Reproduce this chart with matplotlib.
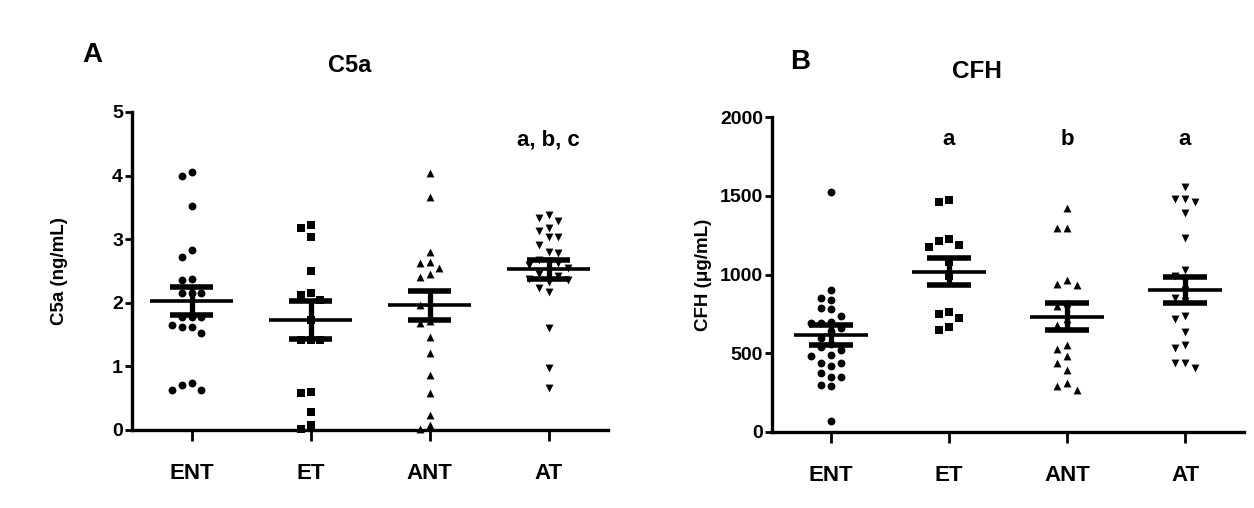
import matplotlib
matplotlib.use("Agg")
import matplotlib.pyplot as plt
import numpy as np

plt.rcParams.update({
    "font.family": ["Liberation Sans", "DejaVu Sans"],
    "font.weight": "bold",
    "axes.labelweight": "bold",
    "axes.linewidth": 2.4,
    "xtick.major.width": 2.0,
    "ytick.major.width": 2.0,
})

# ---- data ----------------------------------------------------------------
groups = ["ENT", "ET", "ANT", "AT"]
markers = ["o", "s", "^", "v"]

c5a_ent = [4.00, 4.05, 3.52, 2.83, 2.72, 2.38, 2.36, 2.15, 2.15, 2.15, 1.78,
           1.78, 1.78, 1.62, 1.62, 1.65, 1.52, 0.71, 0.63, 0.63, 0.74]
c5a_et = [3.17, 3.22, 3.04, 2.50, 2.15, 2.12, 2.05, 1.73, 1.42, 1.42, 1.42,
          0.58, 0.60, 0.29, 0.08, 0.02]
c5a_ant = [4.04, 3.67, 2.80, 2.64, 2.62, 2.55, 2.46, 2.41, 2.02, 1.96, 1.72,
           1.68, 1.47, 1.21, 0.86, 0.58, 0.24, 0.08, 0.02]
c5a_at = [3.38, 3.33, 3.28, 3.18, 3.13, 3.04, 3.03, 2.91, 2.80, 2.78, 2.68,
          2.65, 2.62, 2.59, 2.55, 2.50, 2.46, 2.42, 2.38, 2.36, 2.33, 2.23,
          2.17, 1.61, 0.97, 0.66]
c5a_mean = [2.03, 1.73, 1.96, 2.53]
c5a_sem = [0.22, 0.30, 0.23, 0.15]

cfh_ent = [1526, 902, 849, 838, 785, 779, 737, 700, 695, 690, 660, 640, 600,
           560, 540, 520, 489, 485, 436, 419, 441, 373, 351, 351, 298, 292, 72]
cfh_et = [1473, 1458, 1225, 1213, 1187, 1177, 1080, 990, 760, 747, 722, 665, 648]
cfh_ant = [1420, 1297, 1297, 965, 938, 933, 820, 800, 720, 680, 552, 525, 483,
           436, 394, 309, 294, 267]
cfh_at = [1558, 1480, 1477, 1460, 1389, 1230, 1029, 990, 960, 900, 850, 830,
          737, 716, 637, 552, 531, 436, 436, 404]
cfh_mean = [616, 1018, 732, 902]
cfh_sem = [66, 85, 85, 83]

c5a_letters = ["", "", "", "a, b, c"]
cfh_letters = ["", "a", "b", "a"]


def swarm(ax, x0, vals, step=0.083, min_px=9):
    """Greedy beeswarm: returns x positions so markers don't overlap."""
    placed = []
    xs = np.zeros(len(vals))
    order = np.argsort(vals)[::-1]
    to_px = ax.transData.transform
    for i in order:
        y = vals[i]
        for k in [0, -1, 1, -2, 2, -3, 3, -4, 4]:
            x = x0 + k * step
            p = to_px((x, y))
            if all(np.hypot(*(p - q)) >= min_px for q in placed):
                break
        placed.append(p)
        xs[i] = x
    return xs


def panel(ax, data, means, sems, ymax, yticks, ylabel, letters, letter_y,
          mean_hw, sem_hw):
    ax.set_xlim(-0.5, 3.5)
    ax.set_ylim(0, ymax)
    ax.spines["top"].set_visible(False)
    ax.spines["right"].set_visible(False)
    for i, vals in enumerate(data):
        xs = swarm(ax, i, vals)
        ax.scatter(xs, vals, marker=markers[i], s=32 if markers[i] != "s" else 27,
                   color="black", linewidths=0, zorder=3, clip_on=False)
        m, s = means[i], sems[i]
        ax.hlines(m, i - mean_hw, i + mean_hw, color="black", lw=2.6, zorder=4)
        ax.hlines([m - s, m + s], i - sem_hw, i + sem_hw, color="black",
                  lw=4.0, zorder=4)
        ax.vlines(i, m - s, m + s, color="black", lw=3.8, zorder=4)
        if letters[i]:
            ax.text(i, letter_y, letters[i], ha="center", va="center",
                    fontsize=16, fontweight="bold")
    ax.set_xticks(range(4))
    ax.set_xticklabels(groups, fontsize=16, fontweight="bold")
    ax.set_yticks(yticks)
    ax.tick_params(axis="x", length=8, pad=16, direction="out")
    ax.tick_params(axis="y", length=5, pad=1.5, labelsize=14)
    for t in ax.get_yticklabels():
        t.set_fontweight("bold")
    ax.set_ylabel(ylabel, fontsize=13.5, fontweight="bold")


fig = plt.figure(figsize=(12.54, 5.08), dpi=100)
W, H = 1254, 508
axA = fig.add_axes([132 / W, 1 - 430 / H, (608 - 132) / W, (430 - 112) / H])
axB = fig.add_axes([772 / W, 1 - 432 / H, (1244 - 772) / W, (432 - 117) / H])

panel(axA, [c5a_ent, c5a_et, c5a_ant, c5a_at], c5a_mean, c5a_sem, 5,
      [0, 1, 2, 3, 4, 5], "C5a (ng/mL)", c5a_letters, 4.56, 0.35, 0.18)
panel(axB, [cfh_ent, cfh_et, cfh_ant, cfh_at], cfh_mean, cfh_sem, 2000,
      [0, 500, 1000, 1500, 2000], "CFH (\u03bcg/mL)", cfh_letters, 1854,
      0.31, 0.19)
axA.yaxis.set_label_coords(-0.135, 0.5)
axB.yaxis.set_label_coords(-0.128, 0.5)

fig.text(92 / W, 1 - 55 / H, "A", fontsize=20, fontweight="bold",
         ha="center", va="center")
fig.text(350 / W, 1 - 66 / H, "C5a", fontsize=17, fontweight="bold",
         ha="center", va="center")
fig.text(800 / W, 1 - 62 / H, "B", fontsize=20, fontweight="bold",
         ha="center", va="center")
fig.text(977 / W, 1 - 71 / H, "CFH", fontsize=17.5, fontweight="bold",
         ha="center", va="center")

fig.savefig("out.png", dpi=100, facecolor="white")
